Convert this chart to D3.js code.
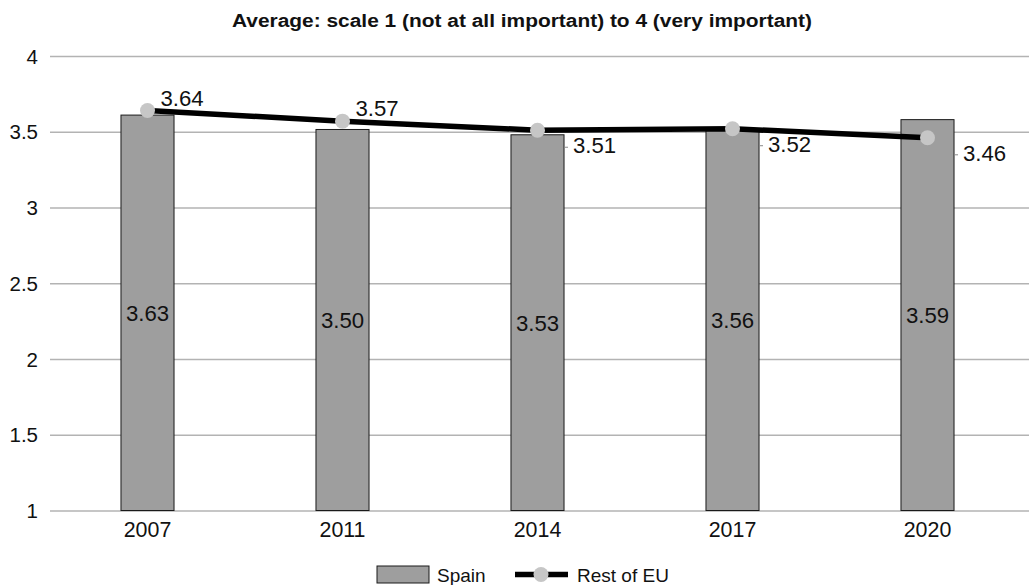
<!DOCTYPE html>
<html><head><meta charset="utf-8">
<script src="https://cdn.jsdelivr.net/npm/d3@7"></script>
<style>body{margin:0;background:#fff}svg{display:block}text{font-family:"Liberation Sans",Arial,Helvetica,sans-serif;fill:#111}</style>
</head><body><svg id="c" width="1029" height="585"></svg>
<script>
const title = "Average: scale 1 (not at all important) to 4 (very important)";
const years = ["2007","2011","2014","2017","2020"];
const spainValues = [3.61, 3.515, 3.48, 3.51, 3.58];
const spainLabels = ["3.63","3.50","3.53","3.56","3.59"];
const euValues = [3.64, 3.57, 3.51, 3.52, 3.46];
const euLabels = ["3.64","3.57","3.51","3.52","3.46"];
const euLabelSide = ["above","above","below","below","below"];
const yTicks = [1, 1.5, 2, 2.5, 3, 3.5, 4];
const seriesNames = ["Spain","Rest of EU"];

const svg = d3.select("#c");
const m = {l:50, r:4, t:56, b:75};
const W = 1029, H = 585;
const x = d3.scaleBand().domain(years).range([m.l, m.l+975]).paddingInner(0.728).paddingOuter(0.364);
const y = d3.scaleLinear().domain([1,4]).range([510.5, 56]);

const t = svg.append("text").attr("x", 522).attr("y", 27).attr("text-anchor","middle")
  .style("font-weight","bold").style("font-size","18px").text(title);
t.attr("textLength", 580).attr("lengthAdjust","spacingAndGlyphs");

const gy = svg.append("g").attr("transform",`translate(${m.l},0)`)
  .call(d3.axisLeft(y).tickValues(yTicks).tickSize(-(W-m.l)).tickFormat(d3.format("")));
gy.select(".domain").remove();
gy.selectAll(".tick line").attr("stroke","#b3b3b3").attr("stroke-width",1.3);
gy.selectAll(".tick text").attr("x",-12).attr("dy","0.35em").style("font-size","20.5px").style("font-family","Liberation Sans, Arial, sans-serif").attr("fill","#111");

const gx = svg.append("g").attr("transform",`translate(0,${y(1)})`)
  .call(d3.axisBottom(x).tickSize(0).tickPadding(11));
gx.select(".domain").remove();
gx.selectAll(".tick text").style("font-size","21.4px").style("font-family","Liberation Sans, Arial, sans-serif").attr("fill","#111").attr("dy","0.71em");

// bars
svg.append("g").selectAll("rect").data(spainValues).join("rect")
  .attr("x",(d,i)=>x(years[i])).attr("width",x.bandwidth())
  .attr("y",d=>y(d)).attr("height",d=>y(1)-y(d))
  .attr("fill","#9e9e9e").attr("stroke","#1a1a1a").attr("stroke-width",1);

svg.append("g").selectAll("text").data(spainValues).join("text")
  .attr("x",(d,i)=>x(years[i])+x.bandwidth()/2)
  .attr("y",d=>(y(d)+y(1))/2).attr("dy","0.36em").attr("text-anchor","middle")
  .style("font-size","22.2px").text((d,i)=>spainLabels[i]);

// line
const cx = i => x(years[i]) + x.bandwidth()/2;
const line = d3.line().x((d,i)=>cx(i)).y(d=>y(d));
svg.append("path").datum(euValues).attr("d",line).attr("fill","none")
  .attr("stroke","#000").attr("stroke-width",5.5).attr("stroke-linejoin","round");
svg.append("g").selectAll("circle").data(euValues).join("circle")
  .attr("cx",(d,i)=>cx(i)).attr("cy",d=>y(d)).attr("r",7.5).attr("fill","#c6c6c6");

// leader ticks for below labels
euValues.forEach((d,i)=>{
  if (euLabelSide[i]!=="below") return;
  svg.append("line")
    .attr("x1",cx(i)+x.bandwidth()/2+1).attr("x2",cx(i)+x.bandwidth()/2+4)
    .attr("y1",y(d)+17).attr("y2",y(d)+17)
    .attr("stroke","#888").attr("stroke-width",1);
});

svg.append("g").selectAll("text").data(euValues).join("text")
  .attr("x",(d,i)=> euLabelSide[i]==="above" ? cx(i)+13 : cx(i)+x.bandwidth()/2+9)
  .attr("y",(d,i)=> euLabelSide[i]==="above" ? y(d)-5 : y(d)+23)
  .style("font-size","22.2px").text((d,i)=>euLabels[i]);

// legend
const lg = svg.append("g");
lg.append("rect").attr("x",377).attr("y",566).attr("width",52).attr("height",17)
  .attr("fill","#9e9e9e").attr("stroke","#1a1a1a").attr("stroke-width",1);
lg.append("text").attr("x",437).attr("y",582).style("font-size","19px").text(seriesNames[0]);
lg.append("line").attr("x1",515).attr("x2",568).attr("y1",574.5).attr("y2",574.5).attr("stroke","#000").attr("stroke-width",5.5);
lg.append("circle").attr("cx",541).attr("cy",574.5).attr("r",7.5).attr("fill","#c6c6c6");
lg.append("text").attr("x",577).attr("y",582).style("font-size","19px").text(seriesNames[1]);
</script></body></html>
